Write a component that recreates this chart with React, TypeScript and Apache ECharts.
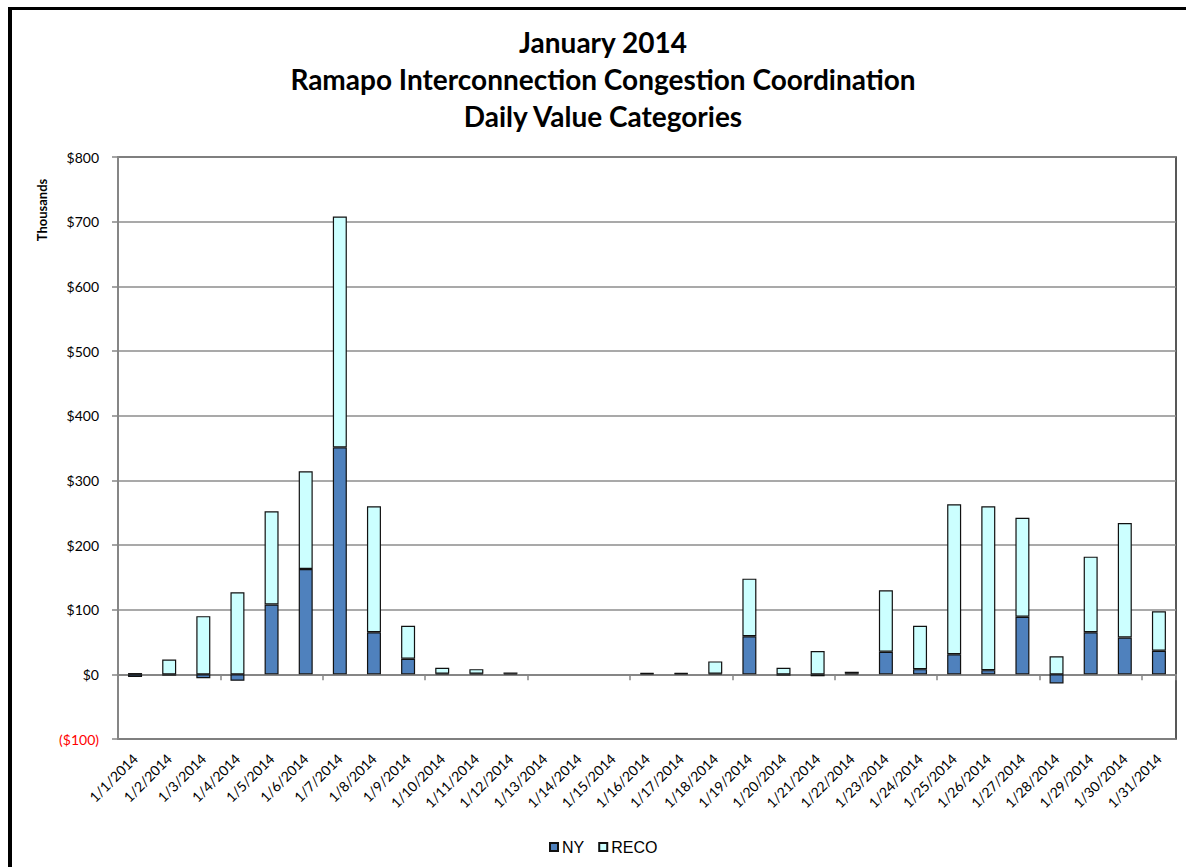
import React, { useEffect, useRef } from "react";
import * as echarts from "echarts";

const categories = [
  "1/1/2014", "1/2/2014", "1/3/2014", "1/4/2014", "1/5/2014", "1/6/2014", "1/7/2014", "1/8/2014",
  "1/9/2014", "1/10/2014", "1/11/2014", "1/12/2014", "1/13/2014", "1/14/2014", "1/15/2014", "1/16/2014",
  "1/17/2014", "1/18/2014", "1/19/2014", "1/20/2014", "1/21/2014", "1/22/2014", "1/23/2014", "1/24/2014",
  "1/25/2014", "1/26/2014", "1/27/2014", "1/28/2014", "1/29/2014", "1/30/2014", "1/31/2014",
];

// Thousands of dollars
const nyValues = [
  -4, -2, -6, -10, 108, 163, 351, 65, 24, 1, 1, 1, 0, 0, 0, 1,
  1, 1, 59, -2, -3, 1, 35, 8, 31, 6.5, 89, -14, 65, 57, 36.5,
];
const recoValues = [
  2, 23, 90, 127, 144, 151, 357, 195, 51, 9, 7, 2, 0, 0, 0, 1,
  1, 19, 89, 10, 36, 3, 95, 67, 232, 253.5, 153, 28, 117, 177, 61,
];

const yTicks = { min: -100, max: 800, interval: 100 };
const titleLines = [
  "January 2014",
  "Ramapo Interconnection Congestion Coordination",
  "Daily Value Categories",
];
const seriesNames = ["NY", "RECO"];

// zero values are not drawn as bars
const toBarData = (arr: number[]) => arr.map((v) => (v === 0 ? "-" : v));

export default function App() {
  const ref = useRef<HTMLDivElement>(null);

  useEffect(() => {
    if (!ref.current) return;
    const chart = echarts.init(ref.current, undefined, { renderer: "svg" });
    const titleFont = "Lato, 'Noto Sans', sans-serif";
    const option: any = {
      animation: false,
      backgroundColor: "#ffffff",
      graphic: [
        {
          type: "line",
          shape: { x1: 10, y1: 7, x2: 10, y2: 867 },
          style: { stroke: "#000", lineWidth: 4 },
          silent: true,
        },
        {
          type: "line",
          shape: { x1: 8, y1: 8.5, x2: 1186, y2: 8.5 },
          style: { stroke: "#000", lineWidth: 3 },
          silent: true,
        },
        ...titleLines.map((t, i) => ({
          type: "text",
          x: 603,
          y: [42, 79, 116][i],
          style: {
            text: t,
            fontFamily: titleFont,
            fontWeight: "bold",
            fontSize: 28,
            fill: "#000",
            textAlign: "center",
            textVerticalAlign: "middle",
          },
        })),
        {
          type: "text",
          x: 42,
          y: 210,
          rotation: Math.PI / 2,
          style: {
            text: "Thousands",
            fontFamily: titleFont,
            fontWeight: "bold",
            fontSize: 13,
            fill: "#000",
            textAlign: "center",
            textVerticalAlign: "middle",
          },
        },
      ],
      grid: {
        left: 118,
        right: 10,
        top: 157,
        bottom: 128,
        show: true,
        borderColor: "#222",
        borderWidth: 1.5,
        backgroundColor: "transparent",
      },
      legend: {
        data: seriesNames,
        left: 549,
        top: 839,
        itemWidth: 8,
        itemHeight: 8,
        itemGap: 14,
        icon: "rect",
        textStyle: {
          fontFamily: "'Liberation Sans', Arial, sans-serif",
          fontSize: 16,
          color: "#000",
          padding: [0, 0, 0, -1],
        },
        padding: 0,
      },
      xAxis: [
        {
          type: "category",
          data: categories,
          position: "bottom",
          axisLine: { onZero: false, show: false },
          axisTick: { show: false },
          axisLabel: {
            interval: 0,
            rotate: 45,
            margin: 17,
            fontFamily: "Lato, sans-serif",
            fontSize: 14,
            color: "#000",
          },
        },
        {
          type: "category",
          data: categories,
          position: "bottom",
          axisLine: { onZero: true, show: true, lineStyle: { color: "#868686", width: 2 } },
          axisTick: { show: true, length: 6, lineStyle: { color: "#868686", width: 1.5 } },
          axisLabel: { show: false },
        },
      ],
      yAxis: {
        type: "value",
        min: yTicks.min,
        max: yTicks.max,
        interval: yTicks.interval,
        axisLine: { show: true, lineStyle: { color: "#868686", width: 2 } },
        axisTick: { show: true, length: 6, lineStyle: { color: "#868686", width: 1.5 } },
        splitLine: { show: true, lineStyle: { color: "#8c8c8c", width: 1.5 } },
        axisLabel: {
          margin: 19,
          fontFamily: "Lato, sans-serif",
          fontSize: 14,
          color: (v: any) => (Number(v) < 0 ? "#ff0000" : "#000"),
          formatter: (v: number) => (v < 0 ? `($${-v})` : `$${v}`),
        },
      },
      series: [
        {
          name: seriesNames[0],
          type: "bar",
          stack: "total",
          xAxisIndex: 0,
          data: toBarData(nyValues),
          barWidth: 14,
          itemStyle: { color: "#4f81bd", borderColor: "#111", borderWidth: 1.2 },
        },
        {
          name: seriesNames[1],
          type: "bar",
          stack: "total",
          xAxisIndex: 0,
          data: toBarData(recoValues),
          barWidth: 14,
          itemStyle: { color: "#ccffff", borderColor: "#111", borderWidth: 1.2 },
        },
      ],
    };
    chart.setOption(option);
    return () => chart.dispose();
  }, []);

  return (
    <div
      ref={ref}
      style={{ position: "absolute", left: 0, top: 0, width: 1186, height: 867 }}
    />
  );
}
